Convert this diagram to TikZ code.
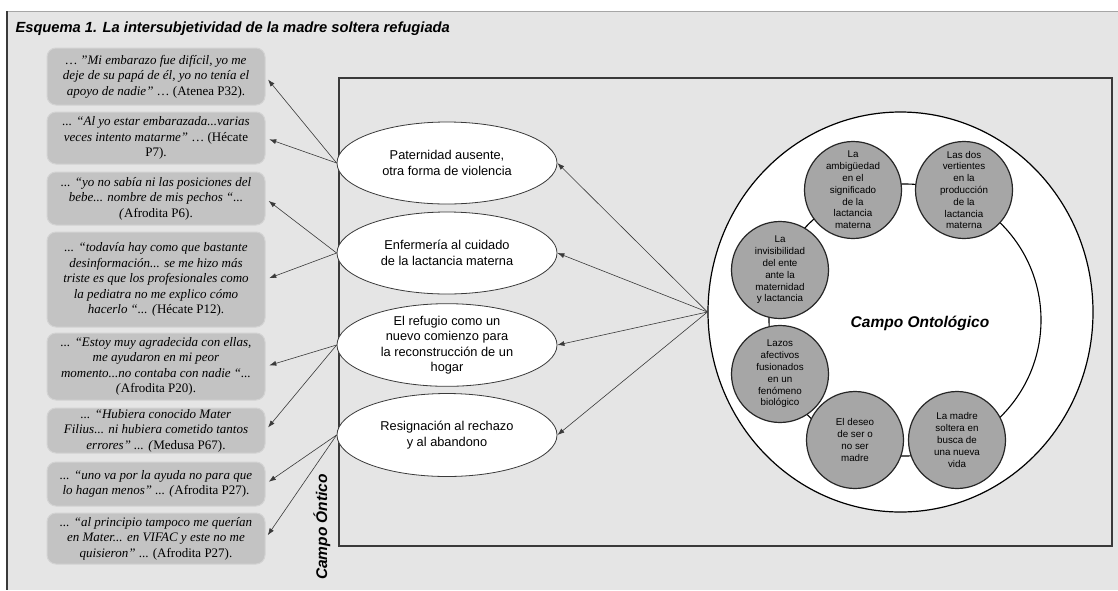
\documentclass[tikz,border=0pt]{standalone}
\usepackage{fontspec}
\setmainfont{Liberation Serif}
\setsansfont{Liberation Sans}
\usepackage{tikz}
\usetikzlibrary{shapes.geometric}
\usetikzlibrary{arrows.meta}
\definecolor{grisfondo}{HTML}{E5E5E5}
\definecolor{griscita}{HTML}{C3C3C3}
\definecolor{bordecita}{HTML}{D3D3D3}
\definecolor{grisnucleo}{HTML}{A6A6A6}
\definecolor{trazo}{HTML}{3A3A3A}
\newcommand{\citafont}{\fontsize{13}{15.5}\selectfont}
\newcommand{\temafont}{\sffamily\fontsize{12.8}{15.5}\selectfont}
\newcommand{\nucleofont}{\sffamily\fontsize{9.8}{11.8}\selectfont}
\newcommand{\campofont}{\sffamily\bfseries\itshape\fontsize{15.5}{18}\selectfont}

\begin{document}
\begin{tikzpicture}[x=1pt,y=-1pt,
		cita/.style={rectangle,rounded corners=9pt,fill=griscita,draw=bordecita,line width=1pt,minimum width=218pt,inner sep=1pt,align=center,font=\citafont},
		tema/.style={ellipse,draw=trazo,fill=white,line width=0.8pt,minimum width=220pt,minimum height=82pt,inner sep=0pt,align=center,font=\temafont},
		nucleo/.style={circle,draw=black!85,line width=1.2pt,fill=grisnucleo,minimum size=97pt,inner sep=0pt,align=center,font=\nucleofont},
		flecha/.style={-{Latex[length=7pt,width=5pt]},draw=trazo,line width=0.6pt}]
				\useasboundingbox (0,0) rectangle (1118,590);
				\fill[grisfondo] (7,11) rectangle (1118,590);
				\draw[black!35, line width=1pt] (7,11) -- (1118,11);
				\draw[trazo, line width=1.3pt] (7,11) -- (7,590);
				\node (T) at (12,32) [anchor=base west,font=\sffamily\bfseries\itshape\fontsize{14.7}{17}\selectfont] {Esquema 1. La intersubjetividad de la madre soltera refugiada};
				\draw[trazo, line width=1.8pt] (339,78) rectangle (1112,546);
				\node (CO) at (322,527) [rotate=90,font=\campofont] {Campo Óntico};
				\node (q1) at (156,76.5) [cita,minimum height=57pt] {\textit{… "Mi embarazo fue difícil, yo me}\\\textit{deje de su papá de él, yo no tenía el}\\\textit{apoyo de nadie"} … (Atenea P32).};
				\node (q2) at (156,138) [cita,minimum height=52pt] {\textit{... “Al yo estar embarazada...varias}\\\textit{veces intento matarme”} … (Hécate\\P7).};
				\node (q3) at (156,198.5) [cita,minimum height=53pt] {\textit{... “yo no sabía ni las posiciones del}\\\textit{bebe... nombre de mis pechos “...}\\\textit{(}Afrodita P6).};
				\node (q4) at (156,279.5) [cita,minimum height=95pt] {\textit{... “todavía hay como que bastante}\\\textit{desinformación... se me hizo más}\\\textit{triste es que los profesionales como}\\\textit{la pediatra no me explico cómo}\\\textit{hacerlo “... (}Hécate P12).};
				\node (q5) at (156,366.5) [cita,minimum height=67pt] {\textit{... “Estoy muy agradecida con ellas,}\\\textit{me ayudaron en mi peor}\\\textit{momento...no contaba con nadie “...}\\\textit{(}Afrodita P20).};
				\node (q6) at (156,430.5) [cita,minimum height=45pt] {\textit{... “Hubiera conocido Mater}\\\textit{Filius... ni hubiera cometido tantos}\\\textit{errores” ... (}Medusa P67).};
				\node (q7) at (156,484) [cita,minimum height=44pt] {\textit{... “uno va por la ayuda no para que}\\\textit{lo hagan menos” ... (}Afrodita P27).};
				\node (q8) at (156,538.5) [cita,minimum height=51pt] {\textit{... “al principio tampoco me querían}\\\textit{en Mater... en VIFAC y este no me}\\\textit{quisieron”} ... (Afrodita P27).};
				\node (e1) at (447,163) [tema] {Paternidad ausente,\\otra forma de violencia};
				\node (e2) at (447,253) [tema] {Enfermería al cuidado\\de la lactancia materna};
				\node (e3) at (447,345) [tema] {El refugio como un\\nuevo comienzo para\\la reconstrucción de un\\hogar};
				\node (e4) at (447,435) [tema,minimum height=83pt] {Resignación al rechazo\\y al abandono};
				\draw[flecha, shorten >=4pt] (e1.west) -- (q1.east);
				\draw[flecha, shorten >=4pt] (e1.west) -- (q2.east);
				\draw[flecha, shorten >=4pt] (e2.west) -- (q3.east);
				\draw[flecha, shorten >=4pt] (e2.west) -- (q4.east);
				\draw[flecha, shorten >=4pt] (e3.west) -- (q5.east);
				\draw[flecha, shorten >=4pt] (e3.west) -- (q6.east);
				\draw[flecha, shorten >=4pt] (e4.west) -- (q7.east);
				\draw[flecha, shorten >=4pt] (e4.west) -- (q8.east);
				\node (O) at (900.5,312) [ellipse,draw=black,fill=white,line width=1.2pt,minimum width=385pt,minimum height=400pt,inner sep=0pt] {};
				\draw[flecha] (O.west) -- (e1.east);
				\draw[flecha] (O.west) -- (e2.east);
				\draw[flecha] (O.west) -- (e3.east);
				\draw[flecha] (O.west) -- (e4.east);
				\draw[black, line width=1.1pt] (905,320) circle [radius=136pt];
				\node (c1) at (853,190) [nucleo] {La\\ambigüedad\\en el\\significado\\de la\\lactancia\\materna};
				\node (c2) at (964,190) [nucleo] {Las dos\\vertientes\\en la\\producción\\de la\\lactancia\\materna};
				\node (c3) at (780,270) [nucleo] {La\\invisibilidad\\del ente\\ante la\\maternidad\\y lactancia};
				\node (c4) at (780,374) [nucleo] {Lazos\\afectivos\\fusionados\\en un\\fenómeno\\biológico};
				\node (c5) at (855,440) [nucleo] {El deseo\\de ser o\\no ser\\madre};
				\node (c6) at (957,440) [nucleo] {La madre\\soltera en\\busca de\\una nueva\\vida};
				\node (CA) at (920,323) [font=\campofont] {Campo Ontológico};
			\end{tikzpicture}
\end{document}
